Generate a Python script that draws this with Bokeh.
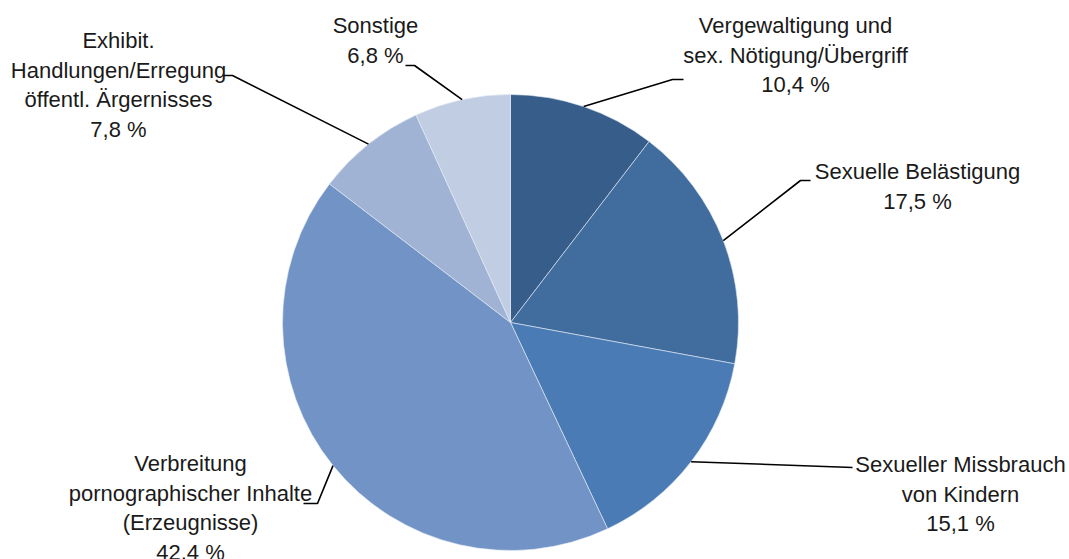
import math
from bokeh.plotting import figure
from bokeh.models import Range1d, ColumnDataSource
from bokeh.core.properties import value
from bokeh.embed import file_html
from bokeh.resources import INLINE

# ---- data ----
categories = [
    "Vergewaltigung und\nsex. Nötigung/Übergriff",
    "Sexuelle Belästigung",
    "Sexueller Missbrauch\nvon Kindern",
    "Verbreitung\npornographischer Inhalte\n(Erzeugnisse)",
    "Exhibit.\nHandlungen/Erregung\nöffentl. Ärgernisses",
    "Sonstige",
]
shares = [10.4, 17.5, 15.1, 42.4, 7.8, 6.8]
pct_labels = ["10,4 %", "17,5 %", "15,1 %", "42,4 %", "7,8 %", "6,8 %"]
colors = ["#375D8A", "#416D9E", "#4A7BB5", "#7293C5", "#A0B3D4", "#C1CDE2"]

# ---- layout (pixel positions in the picture) ----
W, H = 1069, 559
def dx(x):
    return x
def dy(y):
    return H - y

CX, CY, R = dx(510), dy(322), 228
# label centre x, first line centre y, elbow point, end point
label_pos = [
    (795, 25, (672, 79), (683, 79)),
    (917, 171, (800, 180), (810, 180)),
    (960, 464, (852, 467), (852, 467)),
    (190, 463, (317, 503), (303, 503)),
    (118, 40, (232, 75), (222, 75)),
    (375, 25, (414, 65), (405, 65)),
]
LINE_H = 29.5
FONT = "Liberation Sans"
FSIZE = "22px"

p = figure(width=W, height=H, output_backend="svg", toolbar_location=None,
           x_range=Range1d(0, W), y_range=Range1d(0, H), min_border=0)
p.axis.visible = False
p.grid.visible = False
p.outline_line_color = None
p.background_fill_color = "white"

total = sum(shares)
starts, ends, mids = [], [], []
cum = 0.0
for s in shares:
    a0 = math.pi / 2 - 2 * math.pi * (cum + s) / total
    a1 = math.pi / 2 - 2 * math.pi * cum / total
    starts.append(a0)
    ends.append(a1)
    mids.append((a0 + a1) / 2)
    cum += s

src = ColumnDataSource(dict(start=starts, end=ends, color=colors))
p.wedge(x=CX, y=CY, radius=R, start_angle="start", end_angle="end",
        fill_color="color", line_color="#E6ECF5", line_width=0.6, source=src)

# leader lines
xs, ys = [], []
for m, (lx, ly, elb, end) in zip(mids, label_pos):
    px = CX + R * math.cos(m)
    py = CY + R * math.sin(m)
    xs.append([px, dx(elb[0]), dx(end[0])])
    ys.append([py, dy(elb[1]), dy(end[1])])
p.multi_line(xs=xs, ys=ys, line_color="black", line_width=1.6)

# labels
tx, ty, tt = [], [], []
for cat, pct, (lx, ly, elb, end) in zip(categories, pct_labels, label_pos):
    lines = cat.split("\n") + [pct]
    for i, t in enumerate(lines):
        tx.append(dx(lx))
        ty.append(dy(ly + i * LINE_H))
        tt.append(t)
p.text(x=tx, y=ty, text=tt, text_align="center", text_baseline="middle",
       text_font=value(FONT), text_font_size=FSIZE, text_color="#1a1a1a")

open("out.html", "w").write(file_html(p, INLINE))
